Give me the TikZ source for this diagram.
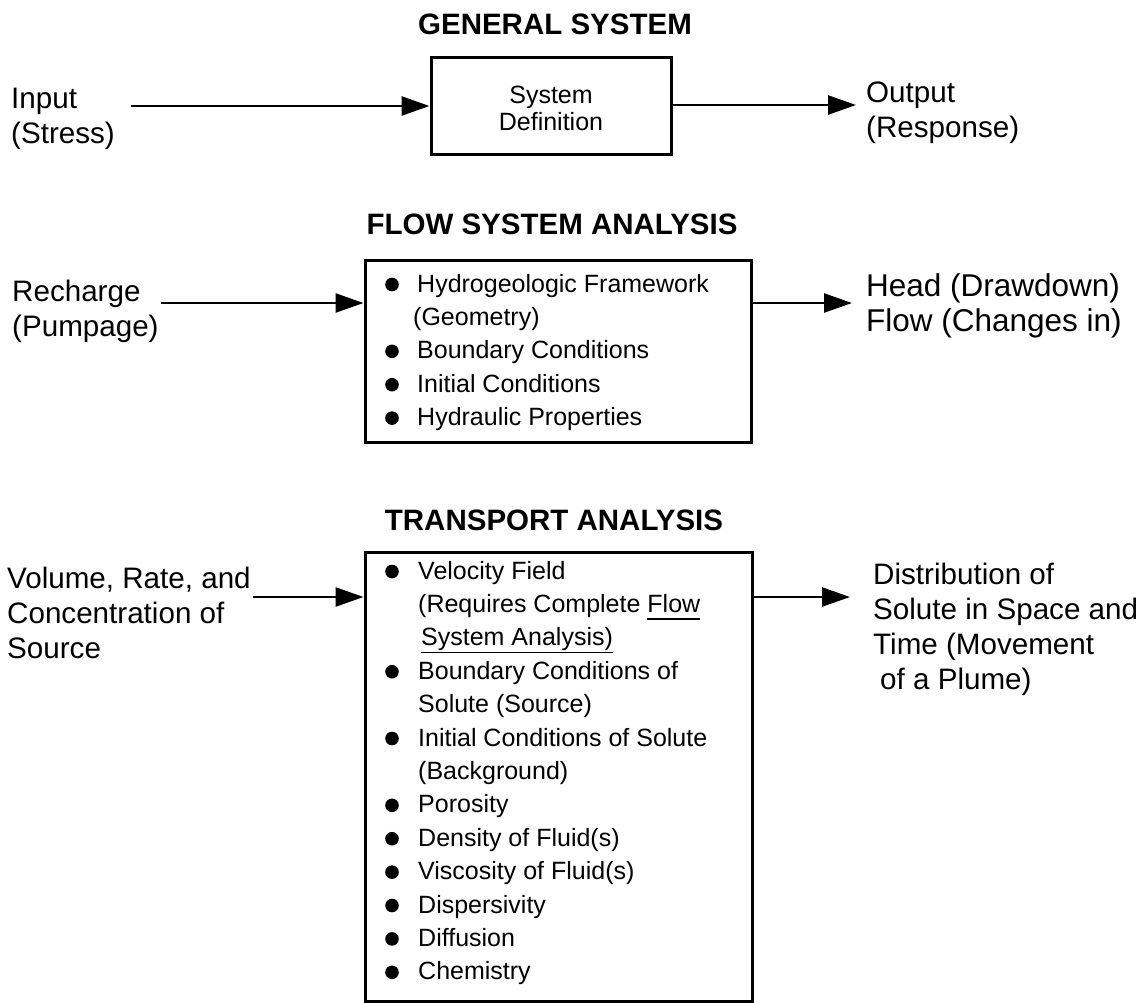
\documentclass[tikz,border=0pt]{standalone}
\usepackage{fontspec}
\setmainfont{Liberation Sans}
\usetikzlibrary{arrows.meta}
\newcommand\lblfont{\fontsize{29.6}{35}\selectfont}
\newcommand\lblfontb{\fontsize{31.5}{35}\selectfont}
\newcommand\bxfont{\fontsize{25}{33.4}\selectfont}
\newcommand\bxfontb{\fontsize{25}{27}\selectfont}
\newcommand\ttlfont{\fontsize{29.5}{35}\selectfont\bfseries}
\newcommand\undl[1]{\setbox0\hbox{#1}\rlap{\rule[-7.5pt]{\wd0}{1.8pt}}\box0}
\begin{document}
\begin{tikzpicture}[x=1pt,y=-1pt,
  boxst/.style={draw, line width=3pt, inner sep=0pt},
  arr/.style={line width=2.6pt, -{Triangle[length=28pt,width=19pt]}},
  lbl/.style={anchor=north west, inner sep=0pt, align=left, font=\lblfont},
  lst/.style={anchor=north west, inner sep=0pt, align=left, font=\bxfont},
  ttl/.style={inner sep=0pt, font=\ttlfont},
  bul/.style={fill=black}]
\fill[white] (0,0) rectangle (1146,1002);
\useasboundingbox (0,0) rectangle (1146,1002);

% ---------- General system ----------
\node[ttl] (t1) at (555,24) {GENERAL SYSTEM};
\node[boxst, minimum width=240pt, minimum height=97pt] (gen) at (551,105.5) {};
\node[inner sep=0pt, align=center, font=\bxfontb] (gtxt) at (551,108.5) {System\\Definition};
\node[lbl] (inp) at (11,84) {\strut Input\\(Stress)};
\node[lbl] (outp) at (866,78) {\strut Output\\(Response)};
\coordinate (gin) at (131,106);
\coordinate (gout) at (856,105);
\draw[arr] (gin) -- (gin -| gen.west);
\draw[arr] (gout -| gen.east) -- (gout);

% ---------- Flow system analysis ----------
\node[ttl] (t2) at (552,224) {FLOW SYSTEM ANALYSIS};
\node[boxst, minimum width=386pt, minimum height=182pt] (flow) at (558,351) {};
\node[lst] (flst) at (417,268.5) {\strut Hydrogeologic Framework\\
  \hspace*{-4pt}(Geometry)\\
  Boundary Conditions\\
  Initial Conditions\\
  Hydraulic Properties};
\foreach \k in {0,2,3,4} \fill[bul] (392,{284.5+33.4*\k}) circle (6.8pt);
\node[lbl] (rech) at (12,277) {\strut Recharge\\(Pumpage)};
\node[lbl, font=\lblfontb] (head) at (866,272) {\strut Head (Drawdown)\\Flow (Changes in)};
\coordinate (fin) at (161,303);
\coordinate (fout) at (852,303);
\draw[arr] (fin) -- (fin -| flow.west);
\draw[arr] (fout -| flow.east) -- (fout);

% ---------- Transport analysis ----------
\node[ttl] (t3) at (554,520) {TRANSPORT ANALYSIS};
\node[boxst, minimum width=387pt, minimum height=449.5pt] (trans) at (558.5,776.75) {};
\node[lst] (tlst) at (418,555.6) {\strut Velocity Field\\
  (Requires Complete \undl{Flow}\\
  \hspace*{3pt}\undl{System Analysis)}\\
  Boundary Conditions of\\
  Solute (Source)\\
  Initial Conditions of Solute\\
  (Background)\\
  Porosity\\
  Density of Fluid(s)\\
  Viscosity of Fluid(s)\\
  Dispersivity\\
  Diffusion\\
  Chemistry};
\foreach \k in {0,3,5,7,8,9,10,11,12} \fill[bul] (392,{571.5+33.4*\k}) circle (6.8pt);
\node[lbl] (vol) at (7,564) {\strut Volume, Rate, and\\Concentration of\\Source};
\node[lbl] (dist) at (873,560) {\strut Distribution of\\Solute in Space and\\Time (Movement\\\hspace*{7pt}of a Plume)};
\coordinate (tin) at (253,597);
\coordinate (tout) at (850,597);
\draw[arr] (tin) -- (tin -| trans.west);
\draw[arr] (tout -| trans.east) -- (tout);
\end{tikzpicture}
\end{document}
